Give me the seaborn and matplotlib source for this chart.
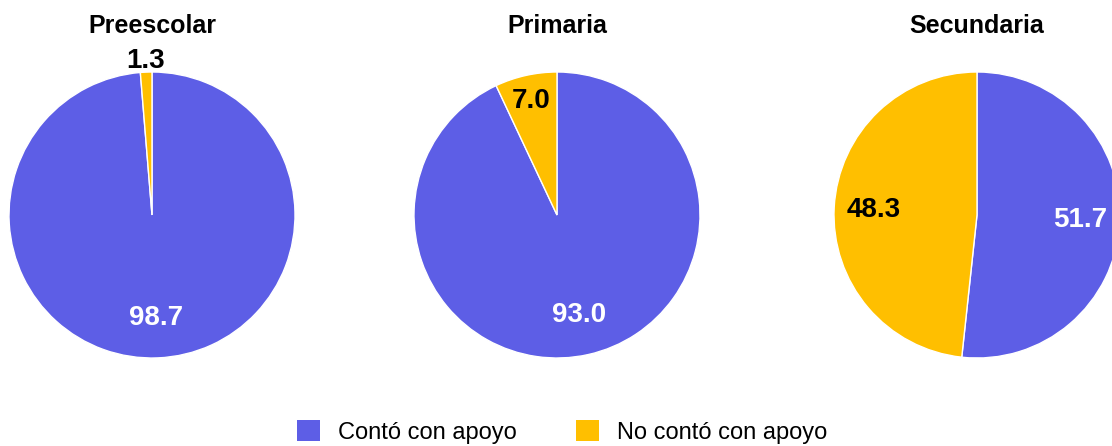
import numpy as np
import seaborn as sns
from matplotlib import pyplot as plt
from matplotlib.patches import Patch

niveles = ['Preescolar', 'Primaria', 'Secundaria']
series = ['Contó con apoyo', 'No contó con apoyo']
con_apoyo = [98.7, 93.0, 51.7]
sin_apoyo = [1.3, 7.0, 48.3]

sns.set_theme(style='white')
plt.rcParams['font.family'] = ['Liberation Sans', 'DejaVu Sans']
plt.rcParams['text.color'] = 'black'
colores = ['#5d5ee6', '#ffbf00']
texto = ['white', 'black']

W, H = 1112, 446
fig = plt.figure(figsize=(W / 100, H / 100), dpi=100)

# pie centres (px) and radius
centros = [152, 557, 977]
cy, r = 215, 143

for i, nivel in enumerate(niveles):
    ax = fig.add_axes([(centros[i] - r) / W, (H - cy - r) / H, 2 * r / W, 2 * r / H])
    vals = [con_apoyo[i], sin_apoyo[i]]
    wedges, _ = ax.pie(vals, colors=colores, startangle=90, counterclock=False,
                       radius=1, wedgeprops=dict(edgecolor='white', linewidth=1))
    for w, v, c in zip(wedges, vals, texto):
        ang = np.deg2rad((w.theta1 + w.theta2) / 2)
        if v < 3:
            d, c = 1.08, 'black'
        elif v < 10:
            d = 0.82
        else:
            d = 0.72
        ax.text(d * np.cos(ang), d * np.sin(ang), f'{v:.1f}', ha='center', va='center',
                color=c, fontsize=20, fontweight='bold')
    ax.set_xlim(-1, 1)
    ax.set_ylim(-1, 1)
    ax.set_aspect('equal')
    ax.axis('off')
    fig.text(centros[i] / W, (H - 26) / H, nivel, ha='center', va='center',
             fontsize=18, fontweight='bold', color='black')

handles = [Patch(facecolor=c, edgecolor='none') for c in colores]
fig.legend(handles, series, loc='center', bbox_to_anchor=(562 / W, 14 / H), ncol=2,
           frameon=False, fontsize=17, handlelength=1.0, handleheight=1.0,
           handletextpad=0.75, columnspacing=2.5)

fig.savefig('out.png', dpi=100)
